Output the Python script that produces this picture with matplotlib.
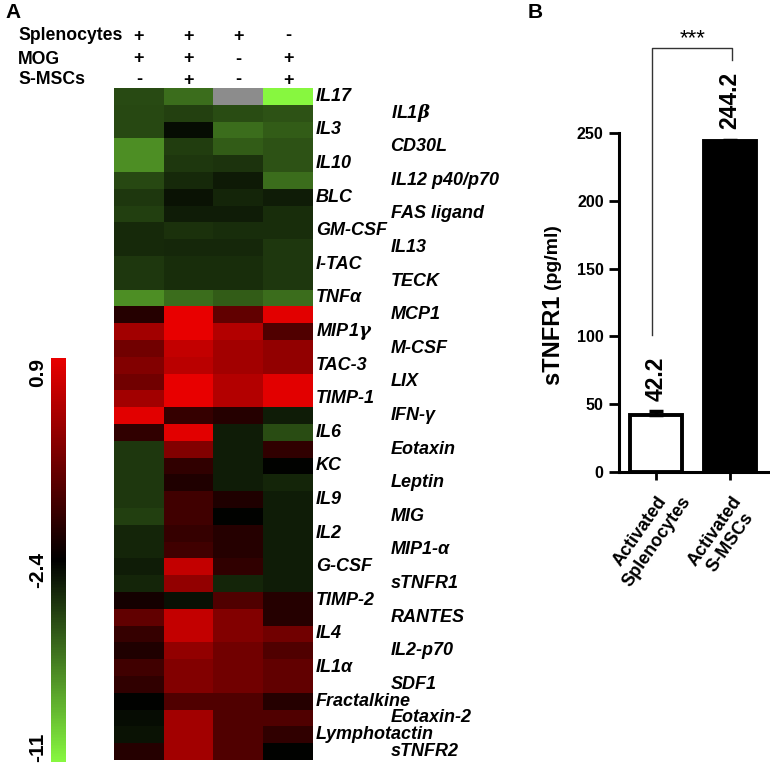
import matplotlib.pyplot as plt
import matplotlib.transforms as mtransforms
import numpy as np
from matplotlib.colors import LinearSegmentedColormap, TwoSlopeNorm

plt.rcParams['font.family'] = ['Liberation Sans', 'DejaVu Sans']
plt.rcParams['font.weight'] = 'bold'
plt.rcParams['mathtext.fontset'] = 'dejavuserif'

# ---- Panel A: cytokine array heatmap ----
conditions = ['Splenocytes', 'MOG', 'S-MSCs']
condition_signs = [['+', '+', '+', '-'],
                   ['+', '+', '-', '+'],
                   ['-', '+', '-', '+']]

cytokines = ['IL17', r'IL1$\beta$', 'IL3', 'CD30L', 'IL10', 'IL12 p40/p70',
             'BLC', 'FAS ligand', 'GM-CSF', 'IL13', 'I-TAC', 'TECK',
             'TNFα', 'MCP1', r'MIP1$\gamma$', 'M-CSF', 'TAC-3', 'LIX',
             'TIMP-1', 'IFN-γ', 'IL6', 'Eotaxin', 'KC', 'Leptin', 'IL9', 'MIG',
             'IL2', 'MIP1-α', 'G-CSF', 'sTNFR1', 'TIMP-2', 'RANTES', 'IL4',
             'IL2-p70', 'IL1α', 'SDF1', 'Fractalkine', 'Eotaxin-2',
             'Lymphotactin', 'sTNFR2']

# log-scale intensity per condition (columns of the array)
spl_mog = [-5.0, -4.9, -4.9, -7.35, -7.35, -4.9, -4.3, -4.6, -3.83, -3.83,
           -4.3, -4.3, -7.35, -1.87, -0.1, -0.79, -0.56, -0.79, -0.1, 0.81,
           -1.71, -4.3, -4.3, -4.3, -4.3, -4.6, -3.73, -3.73, -3.4, -3.73,
           -2.1, -1.02, -1.64, -1.94, -1.48, -1.71, -2.5, -2.87, -3.05, -1.87]
spl_mog_msc = [-6.2, -4.66, -2.87, -4.5, -4.3, -3.83, -3.05, -3.4, -4.1, -3.76,
               -3.98, -3.98, -6.2, 0.9, 0.9, 0.36, 0.24, 0.9, 0.9, -1.64,
               0.81, -0.56, -1.71, -1.94, -1.48, -1.48, -1.64, -1.48, 0.36, -0.33,
               -2.94, 0.36, 0.36, -0.33, -0.56, -0.56, -1.25, -0.1, -0.1, -0.1]
spl_only = [np.nan, -5.05, -6.2, -5.6, -4.2, -3.33, -3.73, -3.4, -3.98, -3.76,
            -3.98, -3.98, -5.6, -1.02, 0.13, -0.1, -0.1, 0.13, 0.13, -1.87,
            -3.4, -3.4, -3.4, -3.4, -1.94, -2.5, -1.87, -1.87, -1.71, -3.73,
            -1.25, -0.56, -0.56, -0.79, -0.79, -0.79, -1.25, -1.25, -1.25, -1.25]
mog_msc = [-11.0, -5.27, -5.6, -5.27, -5.27, -6.2, -3.4, -3.98, -3.98, -4.3,
           -4.3, -4.3, -6.2, 0.81, -1.25, -0.33, -0.33, 0.81, 0.81, -3.4,
           -5.05, -1.71, -2.5, -3.73, -3.4, -3.4, -3.4, -3.4, -3.4, -3.4,
           -1.87, -1.87, -0.79, -1.25, -1.02, -1.02, -1.87, -1.25, -1.71, -2.5]

# ---- Panel B: sTNFR1 ----
groups = ['Activated\nSplenocytes', 'Activated\nS-MSCs']
stnfr1 = [42.2, 244.2]
stnfr1_err = [2.5, 1.0]

W, H = 770, 764
fig = plt.figure(figsize=(W / 100, H / 100), dpi=100)

# heatmap
heat = np.ma.masked_invalid(np.array([spl_mog, spl_mog_msc, spl_only, mog_msc]).T)
cmap = LinearSegmentedColormap.from_list('gkr', [(0.53, 0.97, 0.25), (0, 0, 0), (0.91, 0, 0)])
cmap.set_bad('#8c8c8c')
norm = TwoSlopeNorm(vmin=-11, vcenter=-2.4, vmax=0.9)

ax_h = fig.add_axes([114 / W, 4 / H, 199 / W, 672 / H])
im = ax_h.imshow(heat, cmap=cmap, norm=norm, aspect='auto', interpolation='nearest')
ax_h.axis('off')

lab_trans = mtransforms.blended_transform_factory(ax_h.transAxes, ax_h.transData)
for i, name in enumerate(cytokines):
    xpos = 1.015 if i % 2 == 0 else 1.39
    ax_h.text(xpos, i, name, transform=lab_trans, ha='left', va='center',
              fontsize=13, fontweight='bold', fontstyle='italic', clip_on=False)

# condition header (+/-)
head_trans = mtransforms.blended_transform_factory(ax_h.transData, fig.transFigure)
head_y = [1 - 36 / H, 1 - 59 / H, 1 - 80 / H]
for r, cond in enumerate(conditions):
    fig.text(18 / W, head_y[r], cond, ha='left', va='center', fontsize=12.7, fontweight='bold')
    for j, s in enumerate(condition_signs[r]):
        ax_h.text(j, head_y[r], s, transform=head_trans, ha='center', va='center',
                  fontsize=13, fontweight='bold')

# colorbar
cax = fig.add_axes([51 / W, 2 / H, 15 / W, 404 / H])
cb = fig.colorbar(im, cax=cax, ticks=[-11, -2.4, 0.9])
cb.outline.set_visible(False)
cax.yaxis.set_ticks_position('left')
cax.tick_params(length=0, pad=3)
cb.set_ticklabels(['-11', '-2.4', '0.9'])
tls = cax.get_yticklabels()
for t in tls:
    t.set_rotation(90)
    t.set_fontsize(15)
    t.set_fontweight('bold')
tls[0].set_va('bottom')
tls[2].set_va('top')

# bar chart
ax_b = fig.add_axes([619 / W, (H - 472) / H, 151 / W, 339 / H])
x = np.arange(len(groups))
ax_b.bar(x, stnfr1, width=0.7, color=['white', 'black'], edgecolor='black', linewidth=2.8,
         yerr=[[0, 0], stnfr1_err], capsize=5, error_kw=dict(elinewidth=2.5, capthick=2.5),
         zorder=3)
ax_b.set_xlim(-0.5, 1.54)
ax_b.set_ylim(0, 250)
ax_b.set_yticks(np.arange(0, 251, 50))
ax_b.set_xticks(x)
ax_b.set_xticklabels([])
for side in ['top', 'right']:
    ax_b.spines[side].set_visible(False)
for side in ['left', 'bottom']:
    ax_b.spines[side].set_linewidth(2.2)
ax_b.tick_params(axis='y', length=7, width=2, labelsize=11.5, pad=4)
ax_b.tick_params(axis='x', length=6, width=2)
for t in ax_b.get_yticklabels():
    t.set_fontweight('bold')

for i, v in enumerate(stnfr1):
    ax_b.text(i, v + stnfr1_err[i] + 8, f'{v}', rotation=90, ha='center', va='bottom',
              fontsize=16.5, fontweight='bold', clip_on=False)

xl_trans = mtransforms.blended_transform_factory(ax_b.transData, ax_b.transAxes)
for i, g in enumerate(groups):
    ax_b.text(i - 0.1, -0.19, g, transform=xl_trans, rotation=55, ha='center', va='center',
              multialignment='center', fontsize=13, fontweight='bold')

# significance bracket
ax_b.plot([-0.05, -0.05, 1.03, 1.03], [101, 312.7, 312.7, 304], color='#333333', lw=1,
          clip_on=False)
ax_b.text(0.49, 312, '***', ha='center', va='bottom', fontsize=16, fontweight='normal',
          clip_on=False)

# y label with smaller unit part
yl1 = fig.text(553 / W, (H - 385) / H, 'sTNFR1 ', rotation=90, ha='center', va='bottom',
               fontsize=17, fontweight='bold')
fig.canvas.draw()
bb = yl1.get_window_extent()
fig.text(553 / W, bb.y1 / H, '(pg/ml)', rotation=90, ha='center', va='bottom',
         fontsize=14, fontweight='bold')

fig.text(5 / W, 1 - 12 / H, 'A', fontsize=15, fontweight='bold', va='center', ha='left')
fig.text(528 / W, 1 - 12 / H, 'B', fontsize=15, fontweight='bold', va='center', ha='left')

fig.savefig('out.png', dpi=100)
